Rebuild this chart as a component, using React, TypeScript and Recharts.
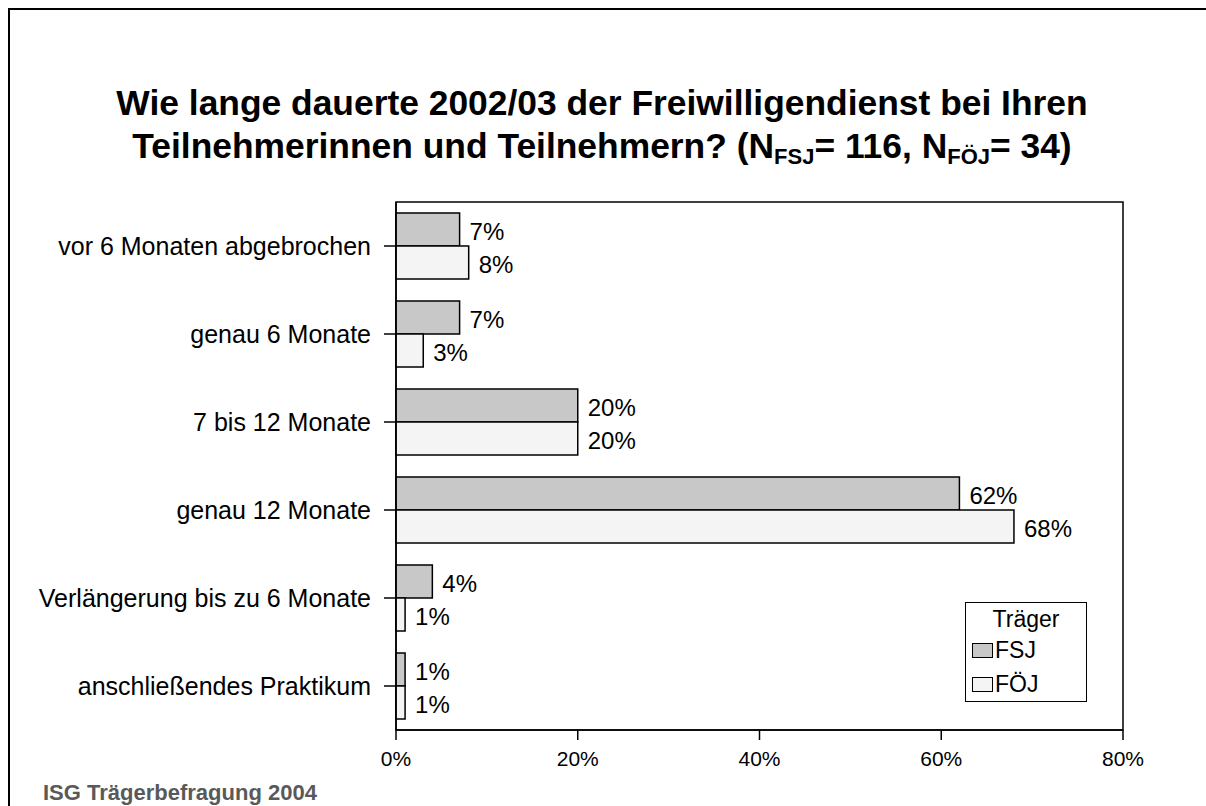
import React from "react";
import { BarChart, Bar, XAxis, YAxis, LabelList, ReferenceArea } from "recharts";

const FONT = "'Liberation Sans', Arial, sans-serif";

const categories = [
  "vor 6 Monaten abgebrochen",
  "genau 6 Monate",
  "7 bis 12 Monate",
  "genau 12 Monate",
  "Verlängerung bis zu 6 Monate",
  "anschließendes Praktikum",
];
const fsjValues = [7, 7, 20, 62, 4, 1];
const foejValues = [8, 3, 20, 68, 1, 1];
const xTicks = [0, 20, 40, 60, 80];

const data = categories.map((cat, i) => ({
  cat,
  FSJ: fsjValues[i],
  FÖJ: foejValues[i],
}));

const FSJ_FILL = "#c8c8c8";
const FOEJ_FILL = "#f4f4f4";

const legendItems = [
  { name: "FSJ", fill: FSJ_FILL },
  { name: "FÖJ", fill: FOEJ_FILL },
];

// framed legend with a title, like the original
const LegendBox = () => (
  <div
    style={{
      position: "absolute",
      left: 955,
      top: 592,
      width: 120,
      height: 98,
      border: "1.5px solid #000",
      background: "#fff",
      fontFamily: FONT,
      fontSize: 23,
      color: "#000",
    }}
  >
    <div style={{ textAlign: "center", marginTop: 2, lineHeight: "28px" }}>Träger</div>
    {legendItems.map((s) => (
      <div
        key={s.name}
        style={{ display: "flex", alignItems: "center", marginLeft: 6, height: 34 }}
      >
        <span
          style={{
            display: "inline-block",
            width: 19,
            height: 13,
            background: s.fill,
            border: "1px solid #000",
            marginRight: 2,
          }}
        />
        <span>{s.name}</span>
      </div>
    ))}
  </div>
);

export default function App() {
  return (
    <div
      style={{
        position: "fixed",
        left: 8,
        top: 8,
        width: 1198,
        height: 798,
        borderLeft: "2px solid #000",
        borderTop: "2px solid #000",
        overflow: "hidden",
        fontFamily: FONT,
        background: "#fff",
      }}
    >
      <div
        style={{
          position: "absolute",
          left: 0,
          top: 72,
          width: 1184,
          textAlign: "center",
          fontWeight: "bold",
          fontSize: 35.4,
          lineHeight: "43px",
          color: "#000",
        }}
      >
        Wie lange dauerte 2002/03 der Freiwilligendienst bei Ihren
        <br />
        Teilnehmerinnen und Teilnehmern? (N
        <sub style={{ fontSize: 22, verticalAlign: "-6px" }}>FSJ</sub>= 116, N
        <sub style={{ fontSize: 22, verticalAlign: "-6px" }}>FÖJ</sub>= 34)
      </div>

      <div style={{ position: "absolute", left: 0, top: 0 }}>
        <BarChart
          width={1180}
          height={780}
          data={data}
          layout="vertical"
          margin={{ top: 192, right: 67, bottom: 30, left: 6 }}
          barCategoryGap="12.5%"
          barGap={0}
        >
          <XAxis
            type="number"
            domain={[0, 80]}
            ticks={xTicks}
            tickFormatter={(v) => `${v}%`}
            stroke="#000"
            strokeWidth={1.5}
            tickSize={10}
            tickMargin={11}
            height={30}
            tick={{ fill: "#000", fontSize: 21, fontFamily: FONT }}
          />
          <YAxis
            type="category"
            dataKey="cat"
            width={380}
            stroke="#000"
            strokeWidth={1.5}
            tickSize={12}
            tickMargin={13}
            tick={{ fill: "#000", fontSize: 25, fontFamily: FONT }}
          />
          <ReferenceArea
            x1={0}
            x2={80}
            fill="none"
            stroke="#000"
            strokeWidth={1.5}
            ifOverflow="visible"
          />
          <Bar
            dataKey="FSJ"
            fill={FSJ_FILL}
            stroke="#000"
            strokeWidth={1.5}
            isAnimationActive={false}
          >
            <LabelList
              dataKey="FSJ"
              position="right"
              offset={10}
              dy={2}
              formatter={(v: any) => `${v}%`}
              style={{ fill: "#000", fontSize: 24, fontFamily: FONT }}
            />
          </Bar>
          <Bar
            dataKey="FÖJ"
            fill={FOEJ_FILL}
            stroke="#000"
            strokeWidth={1.5}
            isAnimationActive={false}
          >
            <LabelList
              dataKey="FÖJ"
              position="right"
              offset={10}
              dy={2}
              formatter={(v: any) => `${v}%`}
              style={{ fill: "#000", fontSize: 24, fontFamily: FONT }}
            />
          </Bar>
        </BarChart>
      </div>

      <LegendBox />

      <div
        style={{
          position: "absolute",
          left: 33,
          top: 770,
          fontWeight: "bold",
          fontSize: 22,
          color: "#595959",
        }}
      >
        ISG Trägerbefragung 2004
      </div>
    </div>
  );
}
